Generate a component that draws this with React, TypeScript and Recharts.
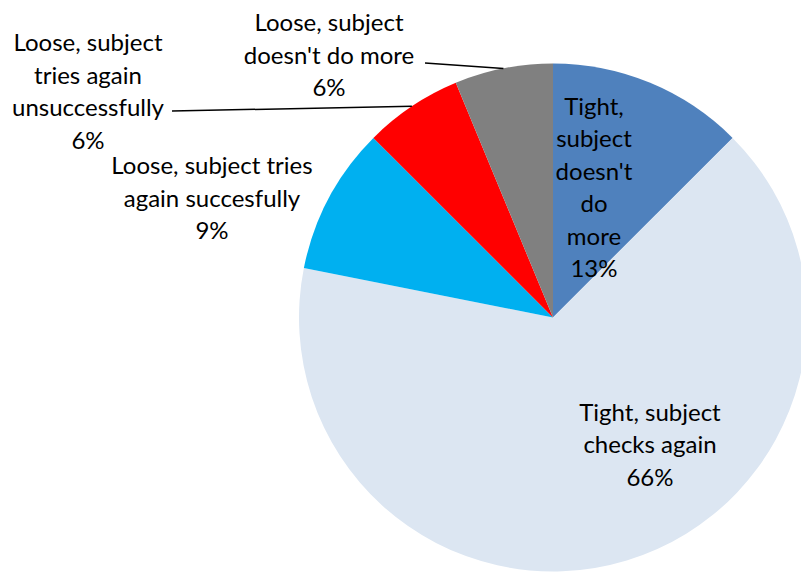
import React from 'react';
import { PieChart, Pie, Cell } from 'recharts';

// ---- data ----
const categories = [
  "Tight, subject doesn't do more",
  'Tight, subject checks again',
  'Loose, subject tries again succesfully',
  'Loose, subject tries again unsuccessfully',
  "Loose, subject doesn't do more",
];
const counts = [4, 21, 3, 2, 2];
// wrapped category text, as shown in the labels
const labelTextLines = [
  ['Tight,', 'subject', "doesn't", 'do', 'more'],
  ['Tight, subject', 'checks again'],
  ['Loose, subject tries', 'again succesfully'],
  ['Loose, subject', 'tries again', 'unsuccessfully'],
  ['Loose, subject', "doesn't do more"],
];

// ---- styles / layout ----
const colors = ['#4F81BD', '#DCE6F2', '#00B0F0', '#FF0000', '#808080'];
// label block centre offset from pie centre, and optional leader-line start offset
const labelLayout = [
  { dx: 41, dy: -131, leader: null },
  { dx: 97, dy: 126, leader: null },
  { dx: -341, dy: -120.5, leader: null },
  { dx: -465, dy: -227, leader: { dx: -381, dy: -206.5 } },
  { dx: -224, dy: -263.5, leader: { dx: -128, dy: -254.5 } },
];
const LINE_H = 32.5;
const FONT = 'Lato, "Open Sans", sans-serif';

const total = counts.reduce((a, b) => a + b, 0);
const data = categories.map((name, i) => ({
  name,
  value: counts[i],
  pct: `${Math.round((counts[i] / total) * 100)}%`,
}));

const RAD = Math.PI / 180;

const renderLabel = (props: any) => {
  const { cx, cy, midAngle, outerRadius, index } = props;
  const lay = labelLayout[index];
  const lines = [...labelTextLines[index], data[index].pct];
  const x = cx + lay.dx;
  const yc = cy + lay.dy;
  const n = lines.length;
  let leader = null;
  if (lay.leader) {
    const ex = cx + outerRadius * Math.cos(-midAngle * RAD);
    const ey = cy + outerRadius * Math.sin(-midAngle * RAD);
    leader = (
      <line
        x1={cx + lay.leader.dx}
        y1={cy + lay.leader.dy}
        x2={ex}
        y2={ey}
        stroke="#000"
        strokeWidth={1.5}
      />
    );
  }
  return (
    <g key={`lbl-${index}`}>
      {leader}
      <text
        x={x}
        y={yc}
        textAnchor="middle"
        fill="#000"
        fontFamily={FONT}
        fontSize={24}
      >
        {lines.map((t, i) => (
          <tspan
            key={i}
            x={x}
            y={yc + (i - (n - 1) / 2) * LINE_H}
            dominantBaseline="central"
          >
            {t}
          </tspan>
        ))}
      </text>
    </g>
  );
};

export default function App() {
  return (
    <div style={{ position: 'absolute', left: 0, top: 0, width: 801, height: 572, background: '#fff', overflow: 'hidden' }}>
      <PieChart width={801} height={572} margin={{ top: 0, right: 0, bottom: 0, left: 0 }}>
        <Pie
          data={data}
          dataKey="value"
          nameKey="name"
          cx={553}
          cy={317.5}
          outerRadius={254}
          startAngle={90}
          endAngle={-270}
          stroke="none"
          label={renderLabel}
          labelLine={false}
          isAnimationActive={false}
        >
          {data.map((d, i) => (
            <Cell key={d.name} fill={colors[i]} />
          ))}
        </Pie>
      </PieChart>
    </div>
  );
}
